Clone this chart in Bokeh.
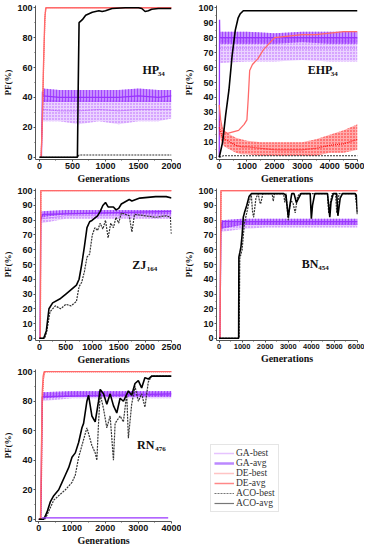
from bokeh.plotting import figure
from bokeh.layouts import column, row
from bokeh.models import Range1d, FixedTicker, Label, Legend, LegendItem
from bokeh.embed import file_html
from bokeh.resources import INLINE

# ---------------- data ----------------
# Panel 1: HP34
p1_x_ticks = [0, 500, 1000, 1500, 2000]
p1_y_ticks = [0, 20, 40, 60, 80, 100]
p1_ga_avg_x = [30, 45, 55, 300, 600, 900, 1200, 1500, 1800, 2000]
p1_ga_avg_y = [0, 44, 41, 40, 40, 40, 40, 41, 40, 41]
p1_ga_avg_bx = [55, 300, 600, 900, 1200, 1500, 1800, 2000]
p1_ga_avg_lo = [37, 37, 37, 37, 37, 37, 37, 37]
p1_ga_avg_hi = [46, 45, 45, 45, 45, 46, 45, 45]
p1_ga_best_x = [50, 300, 600, 900, 1200, 1500, 1800, 2000]
p1_ga_best_y = [32, 31, 31, 32, 31, 32, 32, 32]
p1_ga_best_lo = [24, 24, 22, 24, 22, 24, 24, 26]
p1_ga_best_hi = [39, 38, 38, 38, 38, 38, 38, 38]
p1_de_avg_x = [25, 40, 60, 80, 95, 2000]
p1_de_avg_y = [0, 20, 60, 92, 100, 100]
p1_de_best_x = [25, 45, 65, 85, 100, 2000]
p1_de_best_y = [0, 25, 65, 95, 100, 100]
p1_aco_avg_x = [0, 575, 585, 600, 650, 700, 800, 900, 950, 1000, 1100, 1300, 1500, 1550, 1600, 1650, 1700, 1800, 2000]
p1_aco_avg_y = [0, 0, 40, 90, 92, 95, 97, 98, 97.5, 98, 99.5, 100, 100, 99.5, 97.5, 98, 99, 99.5, 99.5]
p1_aco_best_x = [0, 575, 600, 2000]
p1_aco_best_y = [0, 0, 1.5, 1.5]

# Panel 2: EHP34
p2_x_ticks = [0, 1000, 2000, 3000, 4000, 5000]
p2_y_ticks = [0, 10, 20, 30, 40, 50, 60, 70, 80, 90, 100]
p2_ga_avg_x = [0, 10, 20, 60, 1000, 2000, 3000, 4000, 5000]
p2_ga_avg_y = [0, 92, 80, 80, 80, 80, 80, 80, 80]
p2_ga_avg_bx = [20, 1000, 2000, 3000, 4000, 5000]
p2_ga_avg_lo = [76, 76, 76, 77, 76, 76]
p2_ga_avg_hi = [84, 84, 83, 84, 84, 84]
p2_ga_best_x = [20, 1000, 2000, 3000, 4000, 5000]
p2_ga_best_y = [73, 73, 73, 73, 73, 73]
p2_ga_best_lo = [63, 64, 64, 65, 64, 64]
p2_ga_best_hi = [80, 80, 80, 80, 80, 80]
p2_de_avg_x = [0, 50, 100, 200, 300, 500, 700, 800, 900, 1000, 1050, 1100, 1200, 1400, 1600, 1800, 2000, 2500, 3000, 3500, 4000, 4500, 5000]
p2_de_avg_y = [35, 25, 20, 17, 16, 17, 18, 20, 22, 25, 40, 58, 62, 66, 72, 76, 80, 81, 82, 82, 83, 84, 84]
p2_de_best_x = [0, 100, 200, 400, 600, 800, 1000, 1500, 2000, 2500, 3000, 3500, 4000, 4500, 5000]
p2_de_best_y = [20, 14, 12, 10, 8, 7, 7, 6, 5, 5, 5, 6, 8, 9, 12]
p2_de_best_lo = [15, 9, 7, 5, 3, 2, 2, 1, 1, 1, 1, 1, 3, 3, 5]
p2_de_best_hi = [26, 19, 17, 15, 13, 12, 11, 10, 10, 10, 10, 12, 15, 18, 22]
p2_aco_avg_x = [0, 120, 230, 350, 465, 580, 680, 760, 870, 1000, 5000]
p2_aco_avg_y = [0, 10, 28, 45, 68, 85, 93, 96, 98, 98, 98]
p2_aco_best_x = [0, 150, 5000]
p2_aco_best_y = [0, 1, 1]

# Panel 3: ZJ164
p3_x_ticks = [0, 500, 1000, 1500, 2000, 2500]
p3_y_ticks = [0, 10, 20, 30, 40, 50, 60, 70, 80, 90, 100]
p3_ga_avg_x = [10, 25, 60, 2500]
p3_ga_avg_y = [0, 80, 84, 86]
p3_ga_avg_bx = [40, 500, 1000, 1500, 2000, 2500]
p3_ga_avg_lo = [82, 84, 84, 84, 84, 84]
p3_ga_avg_hi = [86, 87, 87, 87, 87, 87]
p3_ga_best_x = [40, 500, 1000, 1500, 2000, 2500]
p3_ga_best_y = [81, 83, 83, 83, 83, 83]
p3_ga_best_lo = [78, 81, 81, 81, 81, 81]
p3_ga_best_hi = [84, 85, 85, 85, 85, 85]
p3_de_avg_x = [0, 15, 25, 2500]
p3_de_avg_y = [0, 0, 100, 100]
p3_de_best_x = [0, 18, 28, 2500]
p3_de_best_y = [0, 0, 100, 100]
p3_aco_avg_x = [0, 80, 130, 180, 250, 400, 500, 600, 700, 750, 800, 850, 900, 950, 1000, 1100, 1150, 1200, 1250, 1300, 1350, 1400, 1450, 1500, 1550, 1700, 1750, 1900, 2200, 2400, 2500]
p3_aco_avg_y = [0, 0, 5, 20, 24, 27, 30, 33, 36, 40, 50, 62, 75, 79, 80, 83, 86, 90, 92, 89, 89, 89, 87, 88, 91, 94, 93, 95, 96, 96, 95]
p3_aco_best_x = [0, 100, 140, 200, 300, 400, 500, 600, 700, 750, 800, 850, 900, 950, 1000, 1050, 1100, 1150, 1200, 1250, 1300, 1350, 1400, 1450, 1500, 1550, 1700, 1750, 1800, 2000, 2200, 2400, 2480, 2500]
p3_aco_best_y = [0, 0, 5, 18, 22, 20, 23, 22, 25, 35, 38, 45, 55, 57, 70, 75, 73, 78, 74, 80, 68, 78, 75, 82, 78, 85, 83, 72, 84, 83, 82, 83, 82, 70]

# Panel 4: BN454
p4_x_ticks = [0, 1000, 2000, 3000, 4000, 5000, 6000]
p4_y_ticks = [0, 10, 20, 30, 40, 50, 60, 70, 80, 90, 100]
p4_ga_avg_x = [0, 40, 80, 150, 6000]
p4_ga_avg_y = [0, 0, 75, 79, 79]
p4_ga_avg_bx = [80, 1000, 2000, 3000, 4000, 5000, 6000]
p4_ga_avg_lo = [74, 77, 77, 77, 77, 77, 77]
p4_ga_avg_hi = [80, 81, 81, 81, 81, 81, 81]
p4_ga_best_x = [80, 1000, 2000, 3000, 4000, 5000, 6000]
p4_ga_best_y = [75, 77, 77, 77, 77, 77, 77]
p4_ga_best_lo = [72, 74, 75, 75, 75, 75, 75]
p4_ga_best_hi = [78, 79, 79, 79, 79, 79, 79]
p4_de_avg_x = [0, 40, 80, 6000]
p4_de_avg_y = [0, 0, 100, 100]
p4_de_best_x = [0, 45, 90, 6000]
p4_de_best_y = [0, 0, 100, 100]
p4_aco_avg_x = [0, 850, 860, 900, 950, 1000, 1050, 1100, 1200, 1300, 1400, 1600, 2000, 2800, 2900, 3000, 3050, 3150, 3250, 3350, 3450, 3550, 3950, 4000, 4050, 4150, 4700, 4800, 4850, 4950, 5100, 5150, 5250, 5350, 5900, 5950, 6000]
p4_aco_avg_y = [0, 0, 55, 58, 62, 70, 82, 85, 90, 96, 98, 98, 98, 98, 97, 82, 88, 98, 98, 92, 95, 98, 98, 81, 90, 98, 98, 82, 92, 98, 98, 83, 95, 98, 98, 97, 84]
p4_aco_best_x = [0, 870, 900, 950, 1000, 1100, 1200, 1300, 1400, 1450, 1500, 1600, 1700, 1750, 1800, 1900, 2300, 2350, 2400, 2800, 2850, 2900, 3000, 3100, 3200, 3300, 3400, 3500, 4600, 4700, 4750, 4800, 4900, 5050, 5100, 5200, 5900, 6000]
p4_aco_best_y = [0, 0, 54, 57, 60, 78, 85, 92, 97, 86, 82, 95, 98, 93, 91, 98, 98, 93, 98, 98, 92, 98, 80, 93, 92, 85, 96, 98, 98, 98, 85, 90, 98, 98, 85, 98, 98, 85]

# Panel 5: RN476
p5_x_ticks = [0, 1000, 2000, 3000, 4000]
p5_y_ticks = [0, 20, 40, 60, 80, 100]
p5_ga_avg_x = [0, 60, 100, 4000]
p5_ga_avg_y = [0, 0, 83, 85]
p5_ga_avg_bx = [100, 1000, 2000, 3000, 4000]
p5_ga_avg_lo = [82, 83, 83, 83, 83]
p5_ga_avg_hi = [86, 87, 87, 87, 87]
p5_ga_best_x = [100, 1000, 2000, 3000, 4000]
p5_ga_best_y = [83, 84, 84, 84, 84]
p5_ga_best_lo = [80, 82, 82, 82, 82]
p5_ga_best_hi = [85, 86, 86, 86, 86]
p5_ga_low_x = [100, 3900]
p5_ga_low_y = [1, 1]
p5_de_avg_x = [0, 50, 80, 100, 130, 160, 4000]
p5_de_avg_y = [0, 0, 50, 85, 97, 100, 100]
p5_de_best_x = [0, 60, 90, 110, 140, 180, 4000]
p5_de_best_y = [0, 0, 40, 80, 95, 100, 100]
p5_aco_avg_x = [0, 150, 250, 350, 450, 600, 700, 800, 900, 1000, 1100, 1200, 1300, 1350, 1450, 1500, 1600, 1700, 1800, 1850, 1950, 2050, 2150, 2250, 2350, 2450, 2550, 2700, 2800, 2900, 3000, 3100, 3200, 3300, 3400, 4000]
p5_aco_avg_y = [0, 0, 5, 12, 16, 20, 25, 30, 35, 42, 45, 52, 62, 65, 80, 84, 70, 66, 80, 88, 85, 78, 85, 77, 72, 82, 80, 87, 84, 92, 94, 89, 96, 95, 97, 97]
p5_aco_best_x = [0, 180, 250, 350, 450, 600, 800, 1000, 1100, 1200, 1300, 1450, 1500, 1600, 1700, 1750, 1800, 1850, 1950, 2050, 2150, 2250, 2300, 2450, 2550, 2650, 2700, 2800, 2900, 3000, 3100, 3200, 3300, 3400, 4000]
p5_aco_best_y = [0, 0, 3, 8, 13, 16, 20, 25, 30, 42, 50, 62, 58, 50, 45, 40, 65, 85, 75, 62, 70, 40, 65, 70, 66, 85, 55, 78, 90, 80, 85, 76, 93, 97, 97]

legend_labels = ["GA-best", "GA-avg", "DE-best", "DE-avg", "ACO-best", "ACO-avg"]

# ---------------- styles ----------------
GA_AVG = "#9933FF"
GA_BEST = "#B050FF"
DE_AVG = "#FF6A6A"
DE_BEST = "#FF1010"
ACO_AVG = "#000000"
ACO_BEST = "#333333"
AXIS_C = "#555555"
TICK_FONT = "Liberation Sans"
SERIF = "Liberation Serif"


def make_panel(width, height, tb, fw, fh, xr, x_ticks, y_ticks, xfont="9px"):
    p = figure(width=width, height=height, output_backend="svg", toolbar_location=None,
               x_range=Range1d(*xr), y_range=Range1d(-1.5, 101.5),
               min_border_left=29, min_border_right=width - 29 - fw,
               min_border_top=tb, min_border_bottom=height - tb - fh)
    p.outline_line_color = None
    p.grid.visible = False
    p.background_fill_color = "white"
    p.border_fill_color = "white"
    dx = x_ticks[1] - x_ticks[0]
    dy = y_ticks[1] - y_ticks[0]
    p.xaxis.ticker = FixedTicker(ticks=x_ticks, minor_ticks=[t + dx / 2 for t in x_ticks[:-1]])
    p.yaxis.ticker = FixedTicker(ticks=y_ticks, minor_ticks=[t + dy / 2 for t in y_ticks[:-1]])
    for ax in (p.xaxis[0], p.yaxis[0]):
        ax.axis_line_color = AXIS_C
        ax.major_tick_line_color = AXIS_C
        ax.minor_tick_line_color = AXIS_C
        ax.major_tick_out = 2
        ax.major_tick_in = 0
        ax.minor_tick_out = 1
        ax.minor_tick_in = 0
        ax.major_label_text_font = TICK_FONT
        ax.major_label_text_font_style = "bold"
        ax.major_label_text_font_size = "9px"
        ax.major_label_text_color = "#111111"
        ax.major_label_standoff = 1
        ax.axis_label_text_font = SERIF
        ax.axis_label_text_font_style = "bold"
        ax.axis_label_text_color = "#111111"
        ax.axis_label_standoff = 1
    p.xaxis.major_label_text_font_size = xfont
    p.xaxis.axis_label = "Generations"
    p.xaxis.axis_label_text_font_size = "10px"
    p.yaxis.axis_label = "PF(%)"
    p.yaxis.axis_label_text_font_size = "9px"
    return p


def draw(p, ga_avg, ga_avg_band, ga_best, de_avg, de_best, aco_avg, aco_best, de_best_band=None):
    p.varea(x=ga_best[0], y1=ga_best[2], y2=ga_best[3], fill_color=GA_BEST, fill_alpha=0.25,
            hatch_pattern="dot", hatch_color=GA_BEST, hatch_alpha=0.9, hatch_scale=3)
    p.line(ga_best[0], ga_best[1], line_color=GA_BEST, line_dash="1 1", line_width=1)
    p.varea(x=ga_avg_band[0], y1=ga_avg_band[1], y2=ga_avg_band[2], fill_color=GA_AVG, fill_alpha=0.55,
            hatch_pattern="vertical_line", hatch_color=GA_AVG, hatch_alpha=0.8, hatch_scale=3)
    p.line(ga_avg[0], ga_avg[1], line_color=GA_AVG, line_width=1.3)
    if de_best_band is not None:
        p.varea(x=de_best_band[0], y1=de_best_band[1], y2=de_best_band[2], fill_color=DE_BEST, fill_alpha=0.35,
                hatch_pattern="dot", hatch_color=DE_BEST, hatch_alpha=0.9, hatch_scale=3)
    p.line(de_best[0], de_best[1], line_color=DE_BEST, line_dash="1 1", line_width=1.2)
    p.line(de_avg[0], de_avg[1], line_color=DE_AVG, line_width=1.3)
    p.line(aco_best[0], aco_best[1], line_color=ACO_BEST, line_dash="2 1", line_width=1.2)
    p.line(aco_avg[0], aco_avg[1], line_color=ACO_AVG, line_width=1.6)


def name_label(p, x, y, sx, sy, main, sub):
    p.add_layout(Label(x=x, y=y, text=main, text_font=SERIF, text_font_style="bold",
                       text_font_size="12px", text_color="#111111", text_baseline="alphabetic"))
    p.add_layout(Label(x=sx, y=sy, text=sub, text_font=SERIF, text_font_style="bold",
                       text_font_size="7px", text_color="#111111", text_baseline="alphabetic"))


# Panel 1 (row 1: frame 155 px tall)
p1 = make_panel(181, 186, 5, 142, 155, (-60, 2000), p1_x_ticks, p1_y_ticks)
draw(p1, (p1_ga_avg_x, p1_ga_avg_y), (p1_ga_avg_bx, p1_ga_avg_lo, p1_ga_avg_hi),
     (p1_ga_best_x, p1_ga_best_y, p1_ga_best_lo, p1_ga_best_hi),
     (p1_de_avg_x, p1_de_avg_y), (p1_de_best_x, p1_de_best_y),
     (p1_aco_avg_x, p1_aco_avg_y), (p1_aco_best_x, p1_aco_best_y))
name_label(p1, 1560, 58.3, 1790, 55.7, "HP", "34")

# Panel 2
p2 = make_panel(183, 186, 5, 147, 155, (-100, 5000), p2_x_ticks, p2_y_ticks)
draw(p2, (p2_ga_avg_x, p2_ga_avg_y), (p2_ga_avg_bx, p2_ga_avg_lo, p2_ga_avg_hi),
     (p2_ga_best_x, p2_ga_best_y, p2_ga_best_lo, p2_ga_best_hi),
     (p2_de_avg_x, p2_de_avg_y), (p2_de_best_x, p2_de_best_y),
     (p2_aco_avg_x, p2_aco_avg_y), (p2_aco_best_x, p2_aco_best_y),
     de_best_band=(p2_de_best_x, p2_de_best_lo, p2_de_best_hi))
name_label(p2, 3200, 58.3, 4030, 55.7, "EHP", "34")

# Panel 3 (rows 2 and 3: frame 153 px tall)
p3 = make_panel(181, 181, 2, 142, 153, (-75, 2500), p3_x_ticks, p3_y_ticks)
draw(p3, (p3_ga_avg_x, p3_ga_avg_y), (p3_ga_avg_bx, p3_ga_avg_lo, p3_ga_avg_hi),
     (p3_ga_best_x, p3_ga_best_y, p3_ga_best_lo, p3_ga_best_hi),
     (p3_de_avg_x, p3_de_avg_y), (p3_de_best_x, p3_de_best_y),
     (p3_aco_avg_x, p3_aco_avg_y), (p3_aco_best_x, p3_aco_best_y))
name_label(p3, 1756, 49.7, 2030, 47.0, "ZJ", "164")

# Panel 4
p4 = make_panel(183, 181, 2, 147, 153, (-110, 6000), p4_x_ticks, p4_y_ticks, xfont="7.5px")
draw(p4, (p4_ga_avg_x, p4_ga_avg_y), (p4_ga_avg_bx, p4_ga_avg_lo, p4_ga_avg_hi),
     (p4_ga_best_x, p4_ga_best_y, p4_ga_best_lo, p4_ga_best_hi),
     (p4_de_avg_x, p4_de_avg_y), (p4_de_best_x, p4_de_best_y),
     (p4_aco_avg_x, p4_aco_avg_y), (p4_aco_best_x, p4_aco_best_y))
name_label(p4, 3589, 50.4, 4296, 47.7, "BN", "454")

# Panel 5
p5 = make_panel(181, 181, 2, 142, 153, (-100, 4000), p5_x_ticks, p5_y_ticks)
draw(p5, (p5_ga_avg_x, p5_ga_avg_y), (p5_ga_avg_bx, p5_ga_avg_lo, p5_ga_avg_hi),
     (p5_ga_best_x, p5_ga_best_y, p5_ga_best_lo, p5_ga_best_hi),
     (p5_de_avg_x, p5_de_avg_y), (p5_de_best_x, p5_de_best_y),
     (p5_aco_avg_x, p5_aco_avg_y), (p5_aco_best_x, p5_aco_best_y))
p5.line(p5_ga_low_x, p5_ga_low_y, line_color=GA_AVG, line_width=1.3)
name_label(p5, 2961, 50.3, 3510, 47.6, "RN", "476")

# Legend cell
p6 = figure(width=183, height=181, output_backend="svg", toolbar_location=None,
            x_range=Range1d(0, 1), y_range=Range1d(0, 1),
            min_border=0, x_axis_location=None, y_axis_location=None)
p6.outline_line_color = None
p6.grid.visible = False
leg_styles = [
    dict(line_color="#CC88FF", line_dash="1 1", line_width=1.5),
    dict(line_color="#BB88FF", line_width=2.5),
    dict(line_color="#FF8888", line_dash="1 1", line_width=1.5),
    dict(line_color="#FF8888", line_width=1.5),
    dict(line_color="#777777", line_dash="2 1", line_width=1),
    dict(line_color="#777777", line_width=1.2),
]
items = []
for lab, st in zip(legend_labels, leg_styles):
    r = p6.line(x=[float("nan")], y=[float("nan")], **st)
    items.append(LegendItem(label=lab, renderers=[r]))
leg = Legend(items=items, location=(29, 9), label_text_font=SERIF, label_text_font_size="9.5px",
             label_text_color="#333333", label_height=10, glyph_height=10, glyph_width=20,
             label_standoff=2, spacing=0, padding=3, margin=0,
             border_line_color="#CCCCCC", background_fill_color="white")
p6.add_layout(leg)

layout = column(row(p1, p2), row(p3, p4), row(p5, p6))
open("out.html", "w").write(file_html(layout, INLINE))
